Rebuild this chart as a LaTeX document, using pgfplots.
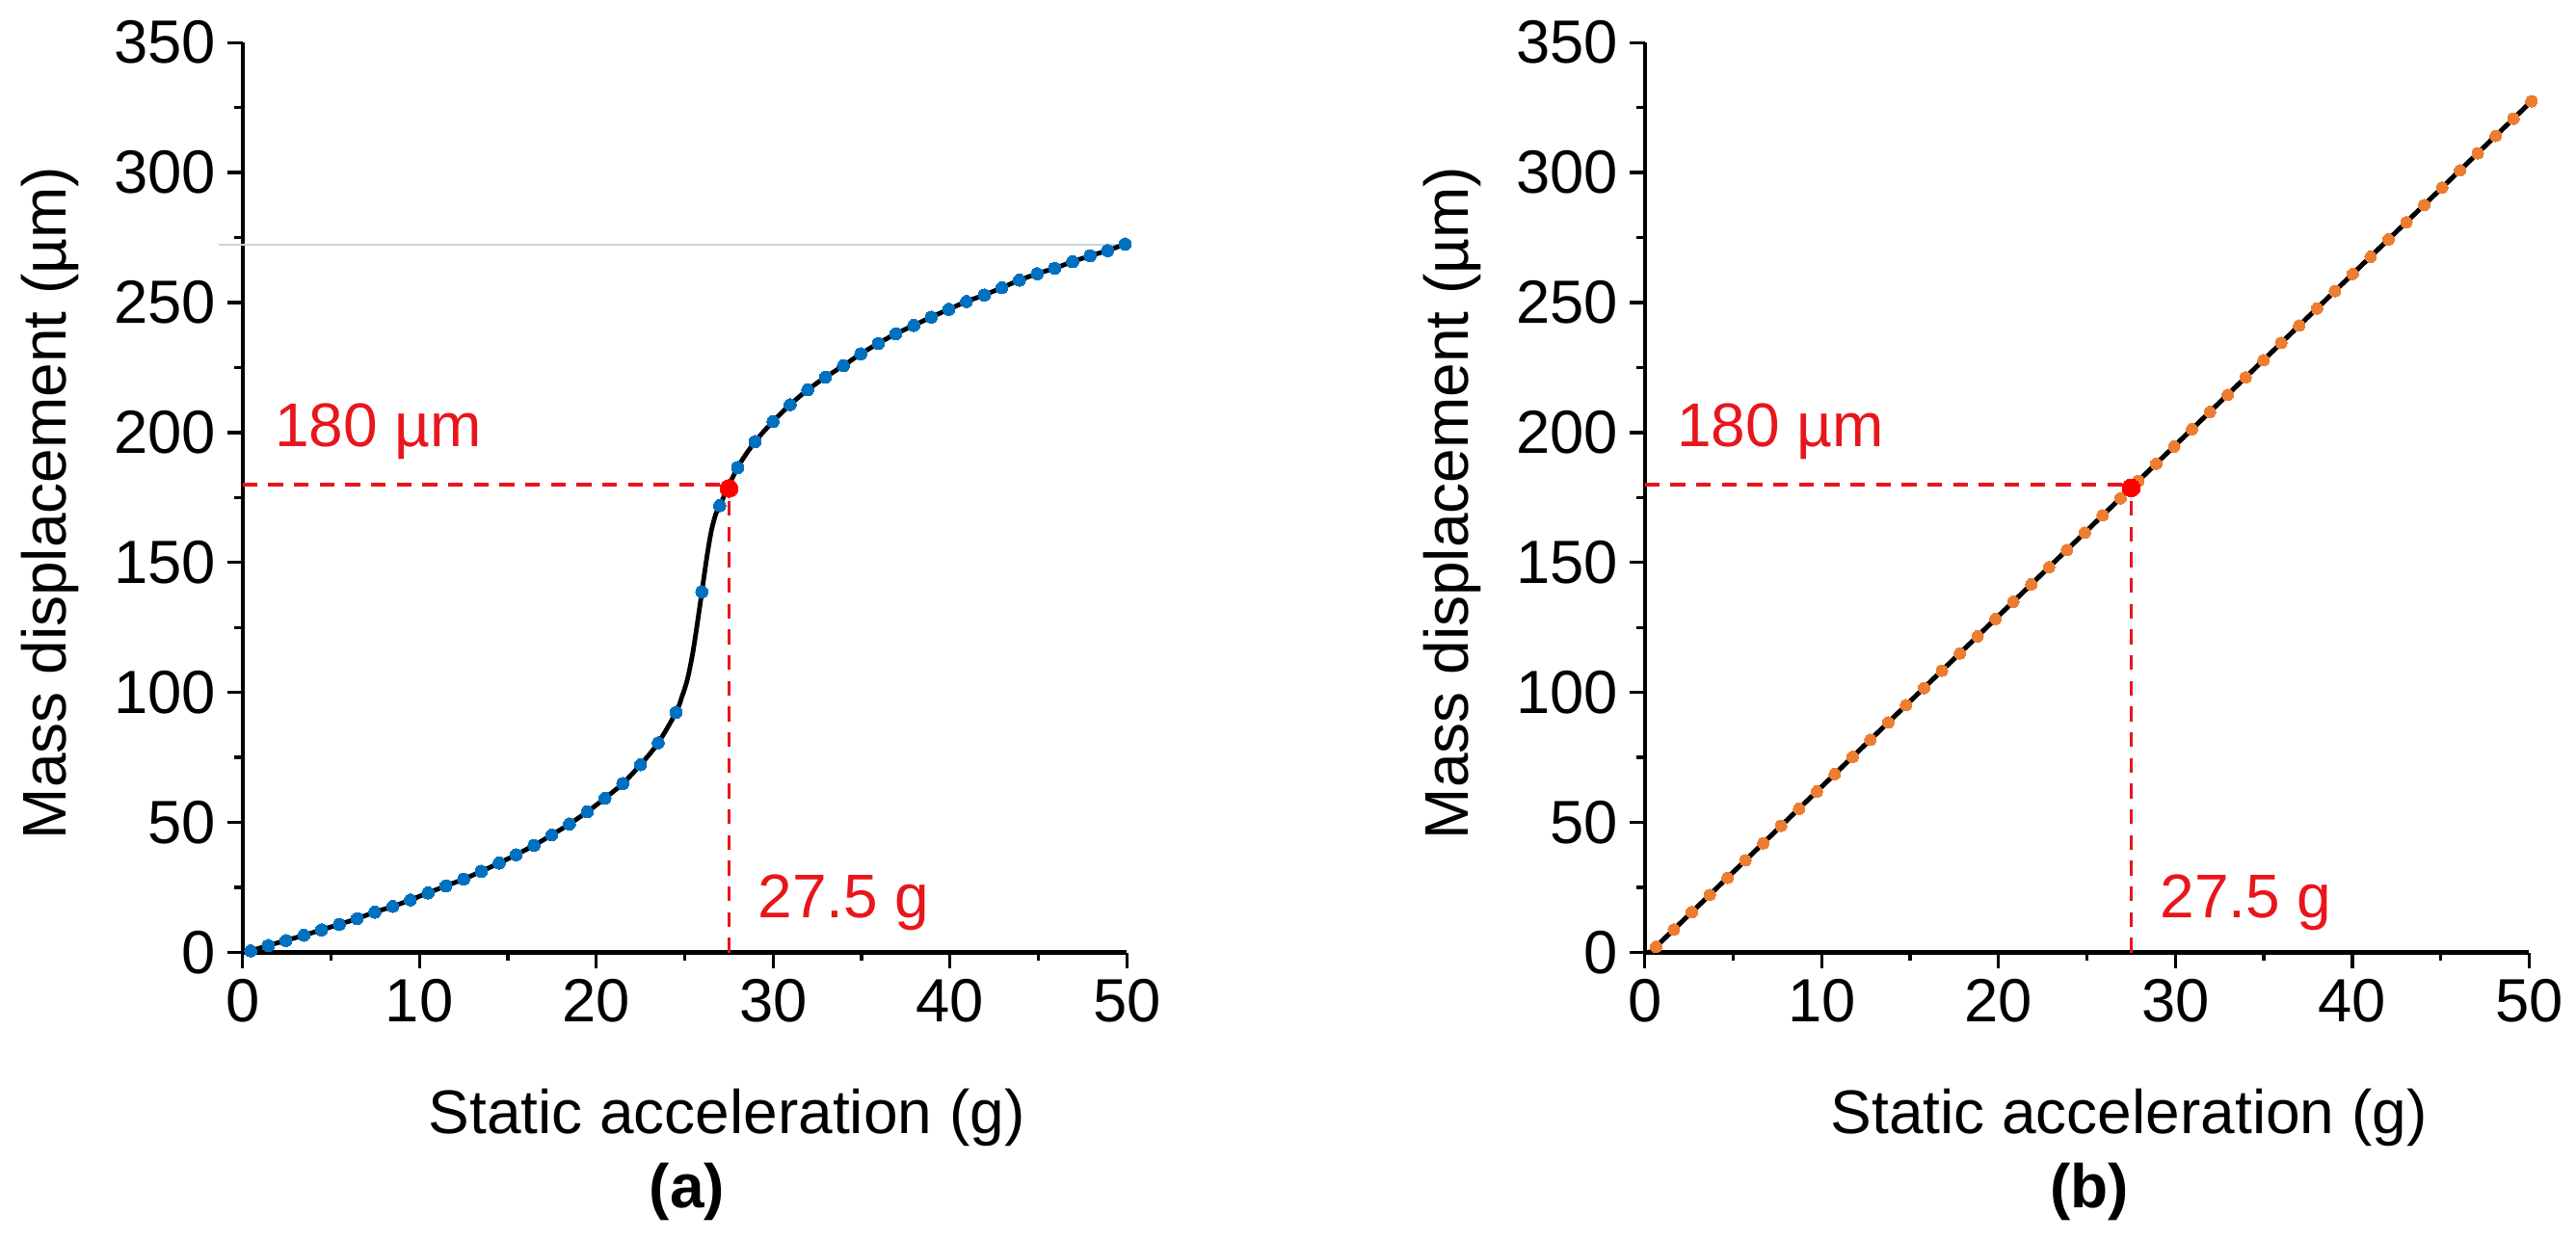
\documentclass[border=0pt]{standalone}
\usepackage{fontspec}
\setmainfont{Liberation Sans}
\usepackage{pgfplots}
\pgfplotsset{compat=1.18}
\definecolor{myblue}{RGB}{0,112,192}
\definecolor{myorange}{RGB}{237,125,49}
\definecolor{myred}{RGB}{232,22,28}
\definecolor{mygray}{RGB}{200,212,216}
\newcommand\fs{\fontsize{19}{22}\selectfont}
\newcommand\fl{\fontsize{19.2}{23}\selectfont}
\pgfplotsset{
  myaxis/.style={
    scale only axis, width=275.3pt, height=283.3pt,
    xmin=0, xmax=50, ymin=0, ymax=350,
    axis x line=bottom, axis y line=left,
    axis line style={line width=1.25pt,-},
    xtick={0,10,...,50}, ytick={0,50,...,350},
    minor x tick num=1, minor y tick num=1,
    tick align=outside, major tick length=4.8pt, minor tick length=2.5pt,
    tick style={line width=1pt, black},
    ticklabel style={font=\fs},
    /pgf/number format/assume math mode=true,
    clip=false, anchor=south west,
  },
  ann/.style={myred, line width=1pt, dash pattern=on 4.6pt off 3.4pt},
  bdot/.style={only marks, color=myblue, mark=*, mark size=1.9pt, mark options={draw=myblue, fill=myblue, line width=0pt}},
  odot/.style={only marks, color=myorange, mark=*, mark size=1.8pt, mark options={draw=myorange, fill=myorange, line width=0pt}},
  rdot/.style={only marks, color=red, mark=*, mark size=2.8pt, mark options={draw=red, fill=red, line width=0pt}},
}
\begin{document}
\begin{tikzpicture}
\path[use as bounding box] (0,0) rectangle (801.9pt,386.1pt);
% ---------------- (a)
\begin{axis}[myaxis, at={(75.5pt,89.55pt)}]
\addplot[mygray, line width=0.5pt] coordinates {(-1.35,272.2) (49.9,272.2)};
\addplot[ann] coordinates {(0,180) (27.5,180)};
\addplot[ann] coordinates {(27.5,0) (27.5,180)};
\addplot[black, line width=1.45pt, smooth] coordinates {
(0.15,0) (0.46,0.6) (1.46,2.7) (2.46,4.6) (3.47,6.6) (4.47,8.7) (5.47,10.8)
(6.48,13.0) (7.48,15.5) (8.49,17.7) (9.49,20.2) (10.49,22.9) (11.50,25.6)
(12.50,28.2) (13.50,31.2) (14.51,34.4) (15.47,37.6) (16.48,41.2) (17.48,45.2)
(18.48,49.4) (19.49,54.1) (20.49,59.3) (21.50,65.0) (22.50,72.2) (23.50,80.6)
(24.51,92.4) (24.85,98.5) (25.15,105) (25.45,115) (25.7,126) (25.97,138.7)
(26.25,152) (26.5,162) (26.75,168.5) (26.98,171.9) (27.99,186.5) (28.98,196.5)
(29.99,204.2) (30.96,210.7) (31.95,216.4) (32.96,221.3) (33.97,225.7)
(34.96,230.3) (35.95,234.3) (36.94,238.0) (37.95,241.2) (38.94,244.4)
(39.93,247.4) (40.93,250.4) (41.94,252.9) (42.93,255.7) (43.92,258.6)
(44.93,261.1) (45.92,263.2) (46.93,265.7) (47.92,268.0) (48.91,270.0) (49.90,272.5)};
\addplot[bdot] coordinates {
(0.46,0.6) (1.46,2.7) (2.46,4.6) (3.47,6.6) (4.47,8.7) (5.47,10.8)
(6.48,13.0) (7.48,15.5) (8.49,17.7) (9.49,20.2) (10.49,22.9) (11.50,25.6)
(12.50,28.2) (13.50,31.2) (14.51,34.4) (15.47,37.6) (16.48,41.2) (17.48,45.2)
(18.48,49.4) (19.49,54.1) (20.49,59.3) (21.50,65.0) (22.50,72.2) (23.50,80.6)
(24.51,92.4) (25.97,138.7) (26.98,171.9) (27.99,186.5) (28.98,196.5)
(29.99,204.2) (30.96,210.7) (31.95,216.4) (32.96,221.3) (33.97,225.7)
(34.96,230.3) (35.95,234.3) (36.94,238.0) (37.95,241.2) (38.94,244.4)
(39.93,247.4) (40.93,250.4) (41.94,252.9) (42.93,255.7) (43.92,258.6)
(44.93,261.1) (45.92,263.2) (46.93,265.7) (47.92,268.0) (48.91,270.0) (49.90,272.5)};
\addplot[rdot] coordinates {(27.5,178.5)};
\node[anchor=base west, text=myred, font=\fl, inner sep=0pt] at (axis cs:1.8,194.5) {180 µm};
\node[anchor=base west, text=myred, font=\fl, inner sep=0pt] at (axis cs:29.1,13.5) {27.5 g};
\end{axis}
% ---------------- (b)
\begin{axis}[myaxis, at={(512.0pt,89.55pt)}]
\addplot[ann] coordinates {(0,180) (27.5,180)};
\addplot[ann] coordinates {(27.5,0) (27.5,180)};
\addplot[black, line width=1.5pt] coordinates {(0.30,0) (50.13,327.4)};
\addplot[odot] coordinates {
(0.64,2.2) (1.65,8.8) (2.66,15.5) (3.67,22.1) (4.68,28.7) (5.69,35.4) (6.70,42.0)
(7.71,48.7) (8.72,55.3) (9.73,61.9) (10.74,68.6) (11.75,75.2) (12.76,81.8)
(13.77,88.5) (14.78,95.1) (15.79,101.7) (16.80,108.4) (17.81,115.0) (18.82,121.6)
(19.83,128.3) (20.84,134.9) (21.85,141.6) (22.86,148.2) (23.87,154.8) (24.88,161.5)
(25.89,168.1) (26.90,174.7) (27.91,181.4) (28.92,188.0) (29.93,194.6) (30.94,201.3)
(31.95,207.9) (32.96,214.5) (33.97,221.2) (34.98,227.8) (35.99,234.5) (37.00,241.1)
(38.01,247.7) (39.02,254.4) (40.03,261.0) (41.04,267.6) (42.05,274.3) (43.06,280.9)
(44.07,287.5) (45.08,294.2) (46.09,300.8) (47.10,307.4) (48.11,314.1) (49.12,320.7)
(50.13,327.4)};
\addplot[rdot] coordinates {(27.5,178.7)};
\node[anchor=base west, text=myred, font=\fl, inner sep=0pt] at (axis cs:1.8,194.5) {180 µm};
\node[anchor=base west, text=myred, font=\fl, inner sep=0pt] at (axis cs:29.1,13.5) {27.5 g};
\end{axis}
% ---------------- labels
\node[rotate=90, anchor=base, font=\fl, inner sep=0pt] at (20.5pt,229.5pt) {Mass displacement (µm)};
\node[rotate=90, anchor=base, font=\fl, inner sep=0pt] at (457pt,229.5pt) {Mass displacement (µm)};
\node[anchor=base, font=\fl, inner sep=0pt] at (226.2pt,33.1pt) {Static acceleration (g)};
\node[anchor=base, font=\fl, inner sep=0pt] at (662.7pt,33.1pt) {Static acceleration (g)};
\node[anchor=base, font=\fl\bfseries, inner sep=0pt] at (213.9pt,10.2pt) {(a)};
\node[anchor=base, font=\fl\bfseries, inner sep=0pt] at (650.4pt,10.2pt) {(b)};
\end{tikzpicture}
\end{document}
